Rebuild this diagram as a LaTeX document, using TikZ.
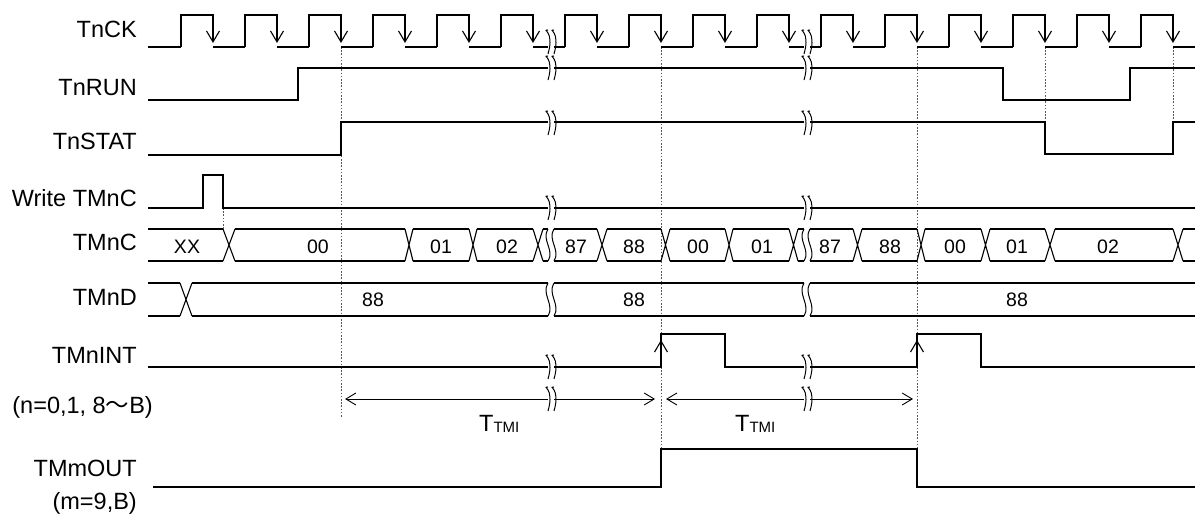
\documentclass[tikz,border=0pt]{standalone}
\usepackage{fontspec}
\setmainfont{Liberation Sans}
\newfontfamily\cjkfont{Noto Sans CJK JP}
\usetikzlibrary{arrows.meta}
\newcommand\lblfont{\fontsize{23.5}{28}\selectfont}
\newcommand\valfont{\fontsize{19.5}{23}\selectfont}
\newcommand\subfont{\fontsize{15}{16}\selectfont}
% bus helpers: x1 x2 top bottom
\newcommand\busseg[4]{\draw[wave] (#1,#3) -- (#2,#3) (#1,#4) -- (#2,#4);}
\newcommand\busx[4]{\draw[wave] (#1,#3) -- (#2,#4) (#1,#4) -- (#2,#3);}
% S-shaped break line: x top bottom amplitude
\newcommand\sline[4]{\draw[brk] (#1,#2) .. controls ({#1-#4},{#2+(#3-#2)/3}) and ({#1+#4},{#2+2*(#3-#2)/3}) .. (#1,#3);}
% break mark on a single line: x, line y, mark centre y
\newcommand\lbrk[3]{%
  \fill[white] ({#1-3},{#2-2.5}) rectangle ({#1+3},{#2+2.5});
  \sline{#1-3}{#3-12}{#3+12}{7}
  \sline{#1+3}{#3-12}{#3+12}{7}}
\begin{document}
\begin{tikzpicture}[x=1pt,y=-1pt,
  wave/.style={line width=1.1pt, line join=miter, black},
  brk/.style={line width=1pt, black},
  guide/.style={line width=0.7pt, dash pattern=on 1.6pt off 1.6pt, black!65},
  dimline/.style={line width=0.9pt, black, {Straight Barb[length=10pt,width=12pt]}-{Straight Barb[length=10pt,width=12pt]}},
  tipdown/.style={-{Straight Barb[length=11pt,width=13pt]}},
  lbl/.style={font=\lblfont, anchor=base east, inner sep=0pt},
  val/.style={font=\valfont, anchor=base, inner sep=0pt}]
\useasboundingbox (0,0) rectangle (1195,518);
\fill[white] (0,0) rectangle (1195,518);

% ---- labels
\node[lbl] (lck)   at (137,38)    {TnCK};
\node[lbl] (lrun)  at (137,95.7)  {TnRUN};
\node[lbl] (lstat) at (137,150)   {TnSTAT};
\node[lbl] (lwr)   at (137,206.7) {Write TMnC};
\node[lbl] (lc)    at (137,250.7) {TMnC};
\node[lbl] (ld)    at (137,305.7) {TMnD};
\node[lbl] (lint)  at (137,363.3) {TMnINT};
\node[lbl] (ln)    at (153,413.3) {(n=0,1, 8{\cjkfont ～}B)};
\node[lbl] (lout)  at (137,476.7) {TMmOUT};
\node[lbl] (lm)    at (137,510)   {(m=9,B)};

% ---- guide lines
\draw[guide] (223,208) -- (223,229);
\draw[guide] (341,47) -- (341,418);
\draw[guide] (661,47) -- (661,449);
\draw[guide] (917,47) -- (917,449);
\draw[guide] (1045,47) -- (1045,122);
\draw[guide] (1173,47) -- (1173,122);

% ---- TnCK
\draw[wave] (148,47) -- (181,47);
\foreach \k in {0,...,15}{
  \pgfmathsetmacro\r{181+64*\k}
  \pgfmathsetmacro\f{\r+32}
  \pgfmathsetmacro\n{min(\f+32,1195)}
  \draw[wave,tipdown] (\r,47) -- (\r,15) -- (\f,15) -- (\f,43);
  \draw[wave] (\f,47) -- (\n,47);
}
% ---- TnRUN
\draw[wave] (148,100) -- (298,100) -- (298,68) -- (1003,68) -- (1003,100) -- (1130,100) -- (1130,68) -- (1195,68);
% ---- TnSTAT
\draw[wave] (148,155) -- (341,155) -- (341,122) -- (1045,122) -- (1045,154) -- (1173,154) -- (1173,122) -- (1195,122);
% ---- Write TMnC
\draw[wave] (148,208) -- (203,208) -- (203,175) -- (223,175) -- (223,208) -- (1195,208);

% ---- TMnC bus
\foreach \a/\b in {148/223,235/405,413/469,477/533,543/548,554/597,607/661,670/725,733/789,798/804,810/853,862/917,925/981,990/1045,1055/1173,1183/1195}
  {\busseg{\a}{\b}{229}{261}}
\foreach \a/\b in {223/235,405/413,469/477,533/543,597/607,661/670,725/733,789/798,853/862,917/925,981/990,1045/1055,1173/1183}
  {\busx{\a}{\b}{229}{261}}
\foreach \x in {548,554,804,810}{\sline{\x}{229}{261}{7}}
\node[val] (c0)  at (187,254) {XX};
\node[val] (c1)  at (318,254) {00};
\node[val] (c2)  at (441,254) {01};
\node[val] (c3)  at (507,254) {02};
\node[val] (c4)  at (576,254) {87};
\node[val] (c5)  at (634,254) {88};
\node[val] (c6)  at (698,254) {00};
\node[val] (c7)  at (762,254) {01};
\node[val] (c8)  at (830,254) {87};
\node[val] (c9)  at (890,254) {88};
\node[val] (c10) at (955,254) {00};
\node[val] (c11) at (1017,254) {01};
\node[val] (c12) at (1108,254) {02};

% ---- TMnD bus
\foreach \a/\b in {148/180,192/548,554/804,810/1195}
  {\busseg{\a}{\b}{283}{316}}
\busx{180}{192}{283}{316}
\foreach \x in {548,554,804,810}{\sline{\x}{283}{316}{7}}
\node[val] (d1) at (373,306.5) {88};
\node[val] (d2) at (634,306.5) {88};
\node[val] (d3) at (1017,306.5) {88};

% ---- TMnINT
\draw[wave] (148,367) -- (661,367) -- (661,334) -- (725,334) -- (725,367) -- (917,367) -- (917,334) -- (981,334) -- (981,367) -- (1195,367);
\draw[wave,-{Straight Barb[length=11pt,width=13pt]}] (661,355) -- (661,340);
\draw[wave,-{Straight Barb[length=11pt,width=13pt]}] (917,355) -- (917,340);

% ---- T_TMI dimensions
\coordinate (a1l) at (345,399); \coordinate (a1r) at (655,399);
\coordinate (a2l) at (666,399); \coordinate (a2r) at (913,399);
\draw[dimline] (a1l) -- (a1r);
\draw[dimline] (a2l) -- (a2r);
\node[font=\lblfont, anchor=base west, inner sep=0pt] (t1) at (479,432) {T\raisebox{-1pt}{\subfont TMI}};
\node[font=\lblfont, anchor=base west, inner sep=0pt] (t2) at (735,432) {T\raisebox{-1pt}{\subfont TMI}};

% ---- TMmOUT
\draw[wave] (153,487) -- (661,487) -- (661,449) -- (917,449) -- (917,487) -- (1195,487);

% ---- break marks
\foreach \x in {551,807}{
  \lbrk{\x}{47}{42}
  \lbrk{\x}{68}{68}
  \lbrk{\x}{122}{123}
  \lbrk{\x}{208}{208}
  \lbrk{\x}{367}{367}
  \lbrk{\x}{399}{399}
}
\end{tikzpicture}
\end{document}
